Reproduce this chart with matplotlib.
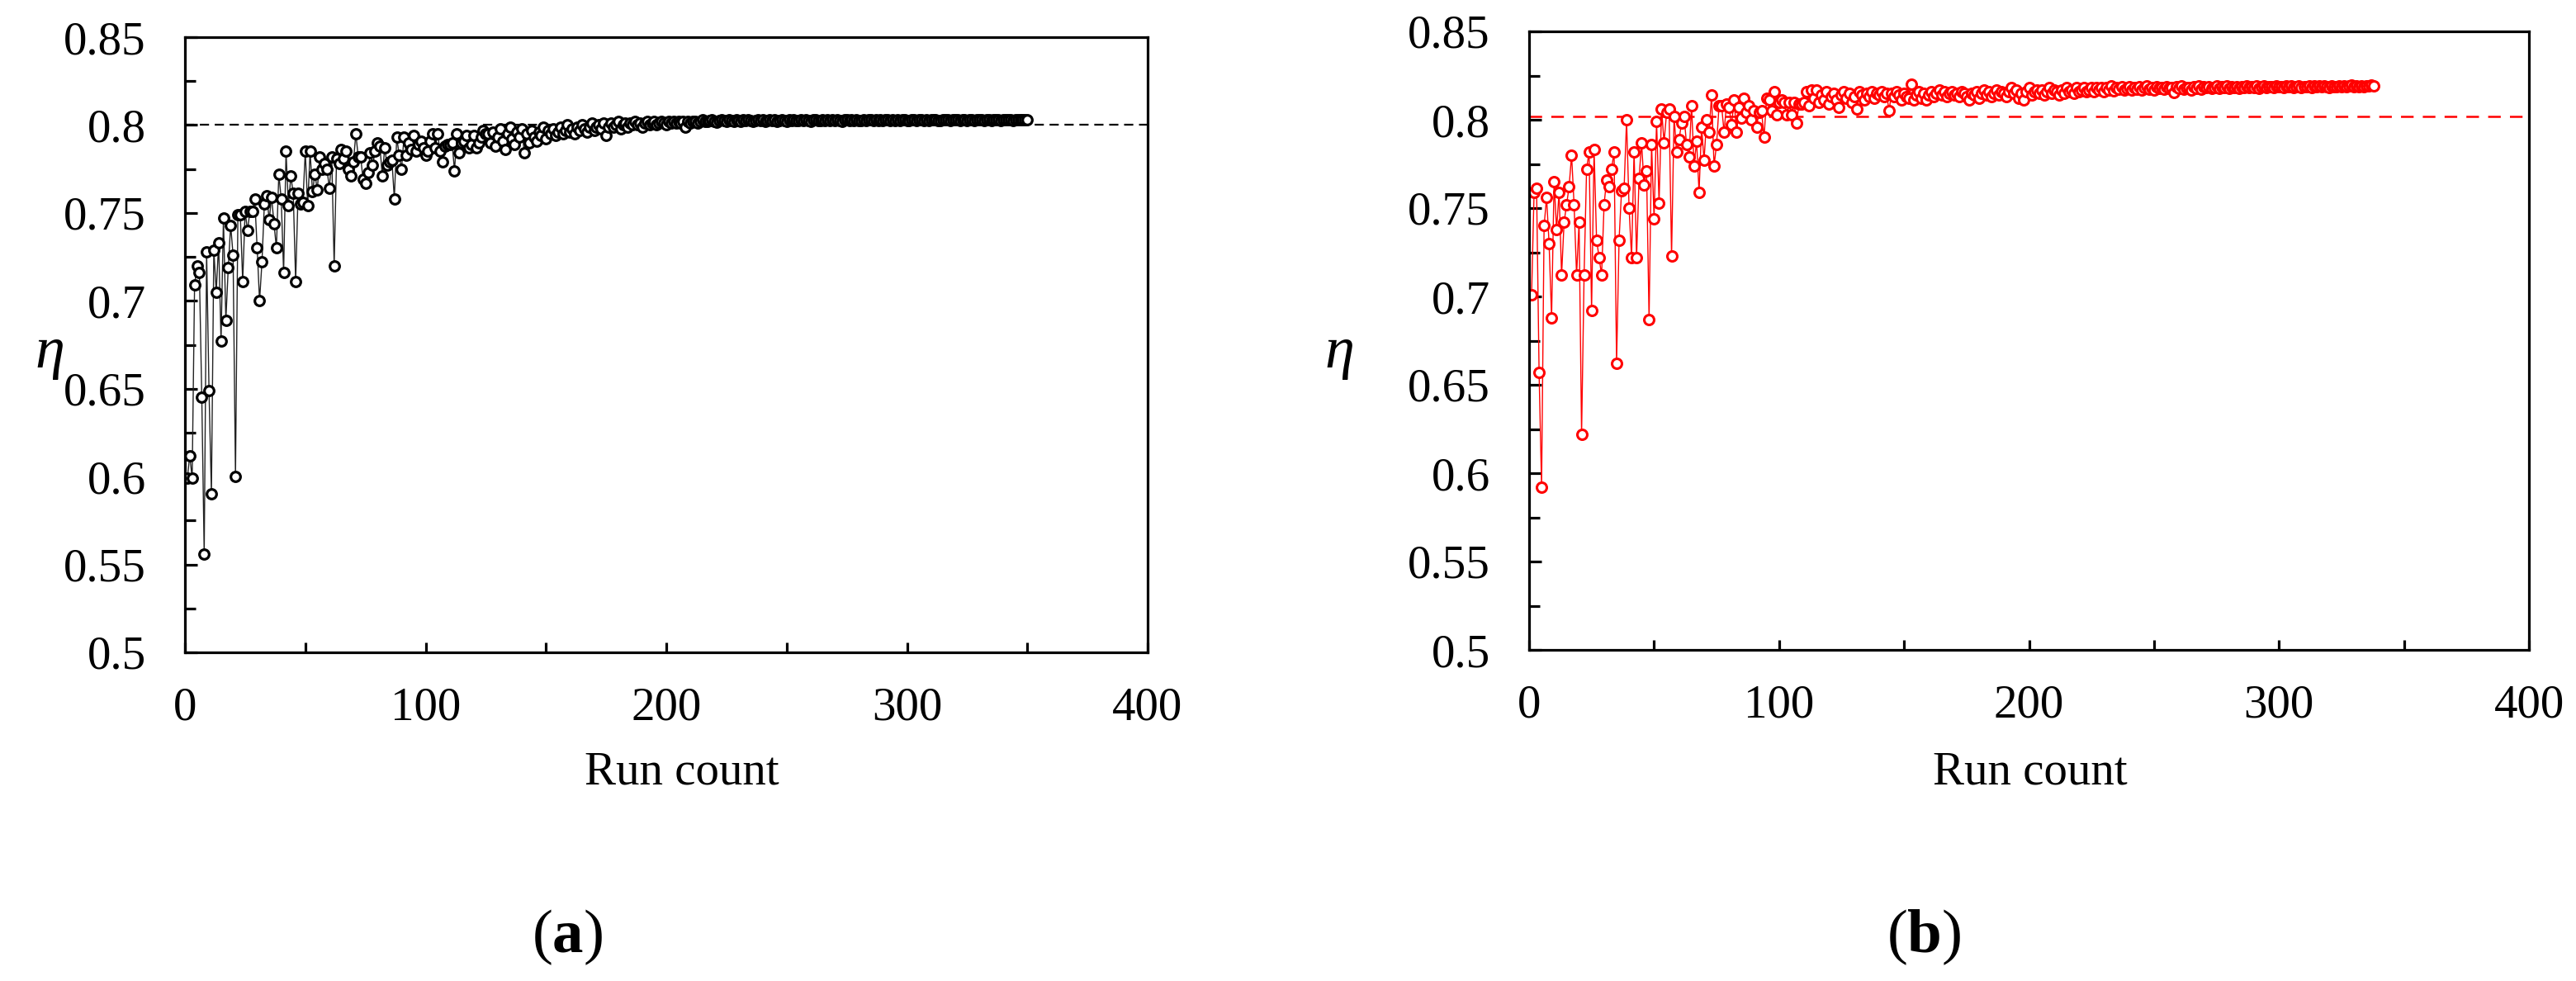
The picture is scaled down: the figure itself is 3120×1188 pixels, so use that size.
import matplotlib
matplotlib.use("Agg")
import matplotlib.pyplot as plt
import numpy as np

plt.rcParams['font.family'] = ['Liberation Serif', 'DejaVu Serif']
plt.rcParams['mathtext.fontset'] = 'custom'
plt.rcParams['mathtext.rm'] = 'Liberation Serif'
plt.rcParams['mathtext.bf'] = 'Liberation Serif:bold'
plt.rcParams['mathtext.it'] = 'Liberation Serif:italic'
plt.rcParams['lines.scale_dashes'] = False

# ---------------- data ----------------
eta_a = [
    0.599, 0.612, 0.599, 0.709, 0.720, 0.716, 0.645, 0.556, 0.728, 0.649,
    0.590, 0.729, 0.705, 0.733, 0.677, 0.747, 0.689, 0.719, 0.743, 0.726,
    0.600, 0.749, 0.749, 0.711, 0.751, 0.740, 0.751, 0.751, 0.758, 0.730,
    0.700, 0.722, 0.755, 0.760, 0.746, 0.759, 0.744, 0.730, 0.772, 0.758,
    0.716, 0.785, 0.754, 0.771, 0.761, 0.711, 0.761, 0.755, 0.756, 0.785,
    0.754, 0.785, 0.762, 0.772, 0.763, 0.782, 0.775, 0.778, 0.775, 0.764,
    0.782, 0.720, 0.781, 0.778, 0.786, 0.781, 0.785, 0.775, 0.771, 0.779,
    0.795, 0.782, 0.782, 0.769, 0.767, 0.773, 0.784, 0.777, 0.785, 0.790,
    0.788, 0.771, 0.787, 0.777, 0.779, 0.780, 0.758, 0.793, 0.783, 0.775,
    0.793, 0.783, 0.790, 0.786, 0.794, 0.785, 0.789, 0.791, 0.787, 0.783,
    0.785, 0.791, 0.795, 0.787, 0.795, 0.785, 0.779, 0.788, 0.789, 0.789,
    0.790, 0.774, 0.795, 0.784, 0.790, 0.791, 0.794, 0.787, 0.789, 0.794,
    0.787, 0.790, 0.793, 0.797, 0.795, 0.795,
    0.790, 0.796, 0.788, 0.793, 0.798, 0.791, 0.786, 0.795, 0.799, 0.792,
    0.789, 0.796, 0.793, 0.798, 0.784, 0.795, 0.790, 0.797, 0.793, 0.791,
    0.796, 0.794, 0.799, 0.792, 0.797, 0.795, 0.798, 0.794, 0.796, 0.799,
    0.795, 0.797, 0.800, 0.796, 0.798, 0.795, 0.799, 0.797, 0.800, 0.798,
    0.796, 0.799, 0.801, 0.797, 0.799, 0.800, 0.798, 0.801, 0.794, 0.799,
    0.801, 0.799, 0.800, 0.802, 0.798, 0.800, 0.801, 0.799, 0.801, 0.800,
    0.802, 0.800, 0.801, 0.799, 0.801, 0.802, 0.800, 0.801, 0.802, 0.800,
    0.801, 0.802, 0.801, 0.800, 0.802, 0.801, 0.802, 0.801, 0.802, 0.801,
    0.802, 0.799, 0.802, 0.801, 0.802, 0.802, 0.801, 0.802, 0.803, 0.802,
    0.8020, 0.8025, 0.8030, 0.8022, 0.8018, 0.8026, 0.8030, 0.8024, 0.8020, 0.8028,
    0.8025, 0.8021, 0.8030, 0.8026, 0.8022, 0.8028, 0.8024, 0.8030, 0.8025, 0.8021,
    0.8027, 0.8031, 0.8024, 0.8028, 0.8022, 0.8026, 0.8030, 0.8025, 0.8029, 0.8023,
    0.8027, 0.8031, 0.8026, 0.8022, 0.8028, 0.8025, 0.8030, 0.8024, 0.8027, 0.8029,
    0.8025, 0.8030, 0.8026, 0.8023, 0.8028, 0.8031, 0.8025, 0.8027, 0.8030, 0.8024,
    0.8028, 0.8026, 0.8031, 0.8025, 0.8029, 0.8027, 0.8023, 0.8028, 0.8030, 0.8026,
    0.8029, 0.8025, 0.8031, 0.8027, 0.8024, 0.8029, 0.8026, 0.8030, 0.8028, 0.8025,
    0.8030, 0.8027, 0.8029, 0.8026, 0.8031, 0.8028, 0.8025, 0.8029, 0.8027, 0.8030,
    0.8026, 0.8029, 0.8031, 0.8027, 0.8025, 0.8030, 0.8028, 0.8026, 0.8029, 0.8031,
    0.8027, 0.8030, 0.8026, 0.8029, 0.8028, 0.8031, 0.8027, 0.8025, 0.8030, 0.8028,
    0.8029, 0.8026, 0.8031, 0.8028, 0.8030, 0.8027, 0.8029, 0.8031, 0.8026, 0.8028,
    0.8030, 0.8027, 0.8029, 0.8031, 0.8028, 0.8026, 0.8030, 0.8029, 0.8027, 0.8031,
    0.8028, 0.8030, 0.8026, 0.8029, 0.8031, 0.8028, 0.8030, 0.8027, 0.8029, 0.8031,
    0.8028, 0.8030, 0.8029, 0.8030,
]

eta_b = [
    0.701, 0.759, 0.761, 0.657, 0.592, 0.740, 0.756, 0.730, 0.688, 0.765,
    0.738, 0.759, 0.712, 0.742, 0.752, 0.762, 0.780, 0.752, 0.712, 0.742,
    0.622, 0.712, 0.772, 0.782, 0.692, 0.783, 0.732, 0.722, 0.712, 0.752,
    0.766, 0.762, 0.772, 0.782, 0.662, 0.732, 0.760, 0.761, 0.800, 0.750,
    0.722, 0.782, 0.722, 0.767, 0.787, 0.763, 0.771, 0.687, 0.786, 0.744,
    0.799, 0.753, 0.806, 0.787, 0.804, 0.806, 0.723, 0.802, 0.782, 0.789,
    0.798, 0.802, 0.786, 0.779, 0.808, 0.774, 0.788, 0.759, 0.796, 0.777,
    0.800, 0.793, 0.814, 0.774, 0.786, 0.808, 0.808, 0.793, 0.809, 0.807,
    0.797, 0.811, 0.793, 0.807, 0.801, 0.812, 0.804, 0.808, 0.800, 0.805,
    0.796, 0.804, 0.805, 0.790, 0.812, 0.811, 0.805, 0.816, 0.803, 0.810,
    0.811, 0.810, 0.803, 0.810, 0.803, 0.810, 0.798, 0.809, 0.809, 0.810,
    0.816, 0.808, 0.817,
    0.812, 0.817, 0.810, 0.814, 0.811, 0.816, 0.809, 0.813, 0.815, 0.811,
    0.807, 0.814, 0.816, 0.812, 0.815, 0.810, 0.813, 0.806, 0.816, 0.814,
    0.811, 0.815, 0.813, 0.816, 0.812, 0.815, 0.814, 0.816, 0.813, 0.815,
    0.805, 0.815, 0.813, 0.816, 0.814, 0.811, 0.815, 0.813, 0.812, 0.820,
    0.811, 0.814, 0.816, 0.812, 0.815, 0.811, 0.814, 0.816, 0.813, 0.815,
    0.817, 0.814, 0.816, 0.813, 0.815, 0.816, 0.814, 0.815, 0.813, 0.816,
    0.815, 0.813, 0.811, 0.815, 0.814, 0.816, 0.812, 0.815, 0.817, 0.814,
    0.816, 0.813, 0.815, 0.817, 0.814, 0.816, 0.815, 0.813, 0.816, 0.818,
    0.815, 0.817, 0.812, 0.815, 0.811, 0.816, 0.818, 0.814, 0.816, 0.817,
    0.815, 0.817, 0.814, 0.816, 0.818, 0.815, 0.817, 0.816, 0.814, 0.817,
    0.815, 0.818, 0.816, 0.817, 0.815, 0.818, 0.816, 0.817, 0.818, 0.816,
    0.817, 0.818, 0.816, 0.818, 0.817, 0.818, 0.816, 0.818, 0.817, 0.819,
    0.8165, 0.8180, 0.8172, 0.8185, 0.8168, 0.8178, 0.8188, 0.8170, 0.8182, 0.8175,
    0.8186, 0.8168, 0.8180, 0.8190, 0.8174, 0.8183, 0.8170, 0.8187, 0.8178, 0.8184,
    0.8172, 0.8188, 0.8176, 0.8182, 0.8155, 0.8185, 0.8178, 0.8190, 0.8173, 0.8184,
    0.8180, 0.8170, 0.8187, 0.8178, 0.8191, 0.8175, 0.8185, 0.8180, 0.8188, 0.8176,
    0.8184, 0.8190, 0.8178, 0.8186, 0.8180, 0.8192, 0.8177, 0.8186, 0.8182, 0.8189,
    0.8179, 0.8188, 0.8184, 0.8191, 0.8180, 0.8187, 0.8183, 0.8190, 0.8178, 0.8186,
    0.8192, 0.8182, 0.8188, 0.8185, 0.8180, 0.8191, 0.8186, 0.8189, 0.8183, 0.8192,
    0.8185, 0.8190, 0.8182, 0.8188, 0.8193, 0.8184, 0.8189, 0.8186, 0.8192, 0.8183,
    0.8190, 0.8187, 0.8193, 0.8185, 0.8191, 0.8188, 0.8183, 0.8192, 0.8189, 0.8186,
    0.8193, 0.8188, 0.8191, 0.8185, 0.8190, 0.8194, 0.8187, 0.8192, 0.8189, 0.8193,
    0.8188, 0.8192, 0.8190, 0.8194, 0.8191,
]

ref_a = 0.800
ref_b = 0.802

x_ticks = [0, 100, 200, 300, 400]
y_ticks = [0.5, 0.55, 0.6, 0.65, 0.7, 0.75, 0.8, 0.85]
y_ticklabels = ['0.5', '0.55', '0.6', '0.65', '0.7', '0.75', '0.8', '0.85']
x_label = 'Run count'
y_label = 'η'
panel_labels = ['(a)', '(b)']

runs_a = np.arange(1, len(eta_a) + 1)
runs_b = np.arange(1, len(eta_b) + 1)

# ---------------- figure ----------------
W, H = 3120, 1188
fig = plt.figure(figsize=(W / 100, H / 100), dpi=100)

def px_axes(x0, y0, x1, y1):
    return fig.add_axes([x0 / W, 1 - y1 / H, (x1 - x0) / W, (y1 - y0) / H])

ax_a = px_axes(224, 45, 1390, 790)
ax_b = px_axes(1852, 38, 3063, 787)

FS = 41

def style(ax):
    ax.set_xlim(0, 400)
    ax.set_ylim(0.5, 0.85)
    ax.set_xticks(x_ticks)
    ax.set_xticklabels([str(t) for t in x_ticks])
    ax.set_xticks([50, 150, 250, 350], minor=True)
    ax.set_yticks(y_ticks)
    ax.set_yticklabels(y_ticklabels)
    ax.set_yticks([0.525, 0.575, 0.625, 0.675, 0.725, 0.775, 0.825], minor=True)
    for s in ax.spines.values():
        s.set_linewidth(2.3)
        s.set_color('black')
    ax.tick_params(which='both', direction='in', top=False, right=False,
                   width=2.3, color='black', labelsize=FS)
    ax.tick_params(axis='y', which='major', length=11, pad=34)
    ax.tick_params(axis='y', which='minor', length=9)
    ax.tick_params(axis='x', which='major', length=9, pad=30)
    ax.tick_params(axis='x', which='minor', length=9)

style(ax_a)
style(ax_b)

# panel a
ax_a.axhline(ref_a, color='black', lw=1.6, dashes=(8, 5), zorder=1)
ax_a.plot(runs_a, eta_a, color='#222222', lw=1.0, zorder=2,
          marker='o', ms=8.4, mfc='white', mec='black', mew=2.3)

# panel b
ax_b.axhline(ref_b, color='#ff0000', lw=1.8, dashes=(11, 8), zorder=1)
ax_b.plot(runs_b, eta_b, color='#ff0000', lw=1.0, zorder=2,
          marker='o', ms=8.6, mfc='white', mec='#ff0000', mew=2.2)

# labels
fig.text(826 / W, 1 - 936 / H, x_label, fontsize=FS, ha='center', va='center')
fig.text(2459 / W, 1 - 936 / H, x_label, fontsize=FS, ha='center', va='center')
fig.text(60 / W, 1 - 428 / H, y_label, fontsize=52, style='italic',
         ha='center', va='center')
fig.text(1622 / W, 1 - 428 / H, y_label, fontsize=52, style='italic',
         ha='center', va='center')

fig.text(687 / W, 1 - 1135 / H, r'($\mathbf{a}$)', fontsize=54, ha='center', va='center')
fig.text(2330 / W, 1 - 1135 / H, r'($\mathbf{b}$)', fontsize=54, ha='center', va='center')

fig.savefig('out.png', dpi=100)
